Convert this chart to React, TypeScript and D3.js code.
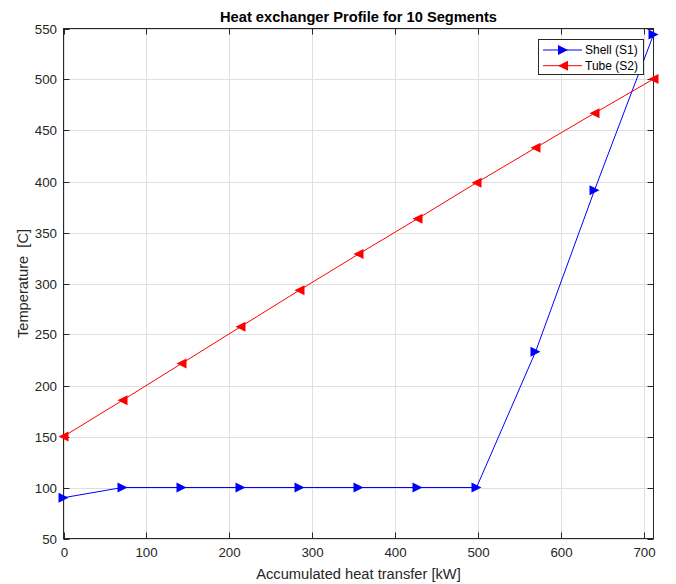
import React from "react";
import * as d3 from "d3";

const heatX = [0, 71.2, 142.4, 213.6, 284.8, 356, 427.2, 498.4, 569.6, 640.8, 712];
const shellT = [90, 100, 100, 100, 100, 100, 100, 100, 233, 391.5, 544];
const tubeT = [150, 185.5, 221.5, 257.5, 293.5, 328.8, 363.5, 398.8, 433, 467, 500.5];
const xTicks = [0, 100, 200, 300, 400, 500, 600, 700];
const yTicks = [50, 100, 150, 200, 250, 300, 350, 400, 450, 500, 550];
const seriesNames = ["Shell (S1)", "Tube (S2)"];

const W = 676;
const H = 584;
const L = 63.5;
const R = 653.5;
const T = 28.5;
const B = 538.5;
const FONT = "'Liberation Sans', Arial, Helvetica, sans-serif";
const AX = "#262626";

function tri(cx: number, cy: number, dir: "r" | "l", s = 5) {
  if (dir === "r") return `M${cx + s},${cy}L${cx - s},${cy - s}L${cx - s},${cy + s}Z`;
  return `M${cx - s},${cy}L${cx + s},${cy - s}L${cx + s},${cy + s}Z`;
}

export default function App() {
  const x = d3.scaleLinear().domain([0, 712]).range([L, R]);
  const y = d3.scaleLinear().domain([50, 550]).range([B, T]);
  const line = d3
    .line<[number, number]>()
    .x((d) => x(d[0]))
    .y((d) => y(d[1]));
  const shell: [number, number][] = heatX.map((v, i) => [v, shellT[i]]);
  const tube: [number, number][] = heatX.map((v, i) => [v, tubeT[i]]);
  const tl = 6;

  return (
    <svg width={W} height={H} style={{ display: "block", position: "absolute", left: 0, top: 0 }} fontFamily={FONT}>
      <rect x={0} y={0} width={W} height={H} fill="#ffffff" />
      <rect x={L} y={T} width={R - L} height={B - T} fill="#ffffff" />
      {/* grid */}
      {xTicks.map((t) => (
        <line key={"gx" + t} x1={Math.round(x(t)) + 0.5} x2={Math.round(x(t)) + 0.5} y1={T} y2={B} stroke="#dfdfdf" strokeWidth={1} />
      ))}
      {yTicks.map((t) => (
        <line key={"gy" + t} x1={L} x2={R} y1={Math.round(y(t)) + 0.5} y2={Math.round(y(t)) + 0.5} stroke="#dfdfdf" strokeWidth={1} />
      ))}
      {/* ticks */}
      {xTicks.map((t) => {
        const px = Math.round(x(t)) + 0.5;
        return (
          <g key={"tx" + t}>
            <line x1={px} x2={px} y1={B} y2={B - tl} stroke={AX} />
            <line x1={px} x2={px} y1={T} y2={T + tl} stroke={AX} />
            <text x={px} y={557} fontSize={13.33} fill={AX} textAnchor="middle">
              {t}
            </text>
          </g>
        );
      })}
      {yTicks.map((t) => {
        const py = Math.round(y(t)) + 0.5;
        return (
          <g key={"ty" + t}>
            <line x1={L} x2={L + tl} y1={py} y2={py} stroke={AX} />
            <line x1={R} x2={R - tl} y1={py} y2={py} stroke={AX} />
            <text x={57} y={py} dy="0.35em" fontSize={13.33} fill={AX} textAnchor="end">
              {t}
            </text>
          </g>
        );
      })}
      <rect x={L} y={T} width={R - L} height={B - T} fill="none" stroke={AX} strokeWidth={1} />
      {/* series */}
      <path d={line(shell) || ""} fill="none" stroke="#0000ff" strokeWidth={1} />
      <path d={line(tube) || ""} fill="none" stroke="#ff0000" strokeWidth={1} />
      {shell.map((d, i) => (
        <path key={"sm" + i} d={tri(x(d[0]), y(d[1]), "r")} fill="#0000ff" />
      ))}
      {tube.map((d, i) => (
        <path key={"tm" + i} d={tri(x(d[0]), y(d[1]), "l")} fill="#ff0000" />
      ))}
      {/* title & labels */}
      <text x={(L + R) / 2} y={22} fontSize={14.67} fontWeight="bold" fill="#000" textAnchor="middle">
        Heat exchanger Profile for 10 Segments
      </text>
      <text x={(L + R) / 2} y={579} fontSize={14.67} fill={AX} textAnchor="middle">
        Accumulated heat transfer [kW]
      </text>
      <text
        transform={`translate(28,${(T + B) / 2}) rotate(-90)`}
        fontSize={14.67}
        fill={AX}
        textAnchor="middle"
        style={{ whiteSpace: "pre" }}
      >
        {"Temperature  [C]"}
      </text>
      {/* legend */}
      <rect x={538.5} y={39.5} width={105} height={35} fill="#ffffff" stroke={AX} strokeWidth={1} />
      {seriesNames.map((n, i) => {
        const ly = 50 + i * 15.7;
        const col = i === 0 ? "#0000ff" : "#ff0000";
        return (
          <g key={n}>
            <line x1={543} x2={582} y1={ly} y2={ly} stroke={col} strokeWidth={1} />
            <path d={tri(563, ly, i === 0 ? "r" : "l")} fill={col} />
            <text x={585} y={ly} dy="0.35em" fontSize={12} fill="#000">
              {n}
            </text>
          </g>
        );
      })}
    </svg>
  );
}
